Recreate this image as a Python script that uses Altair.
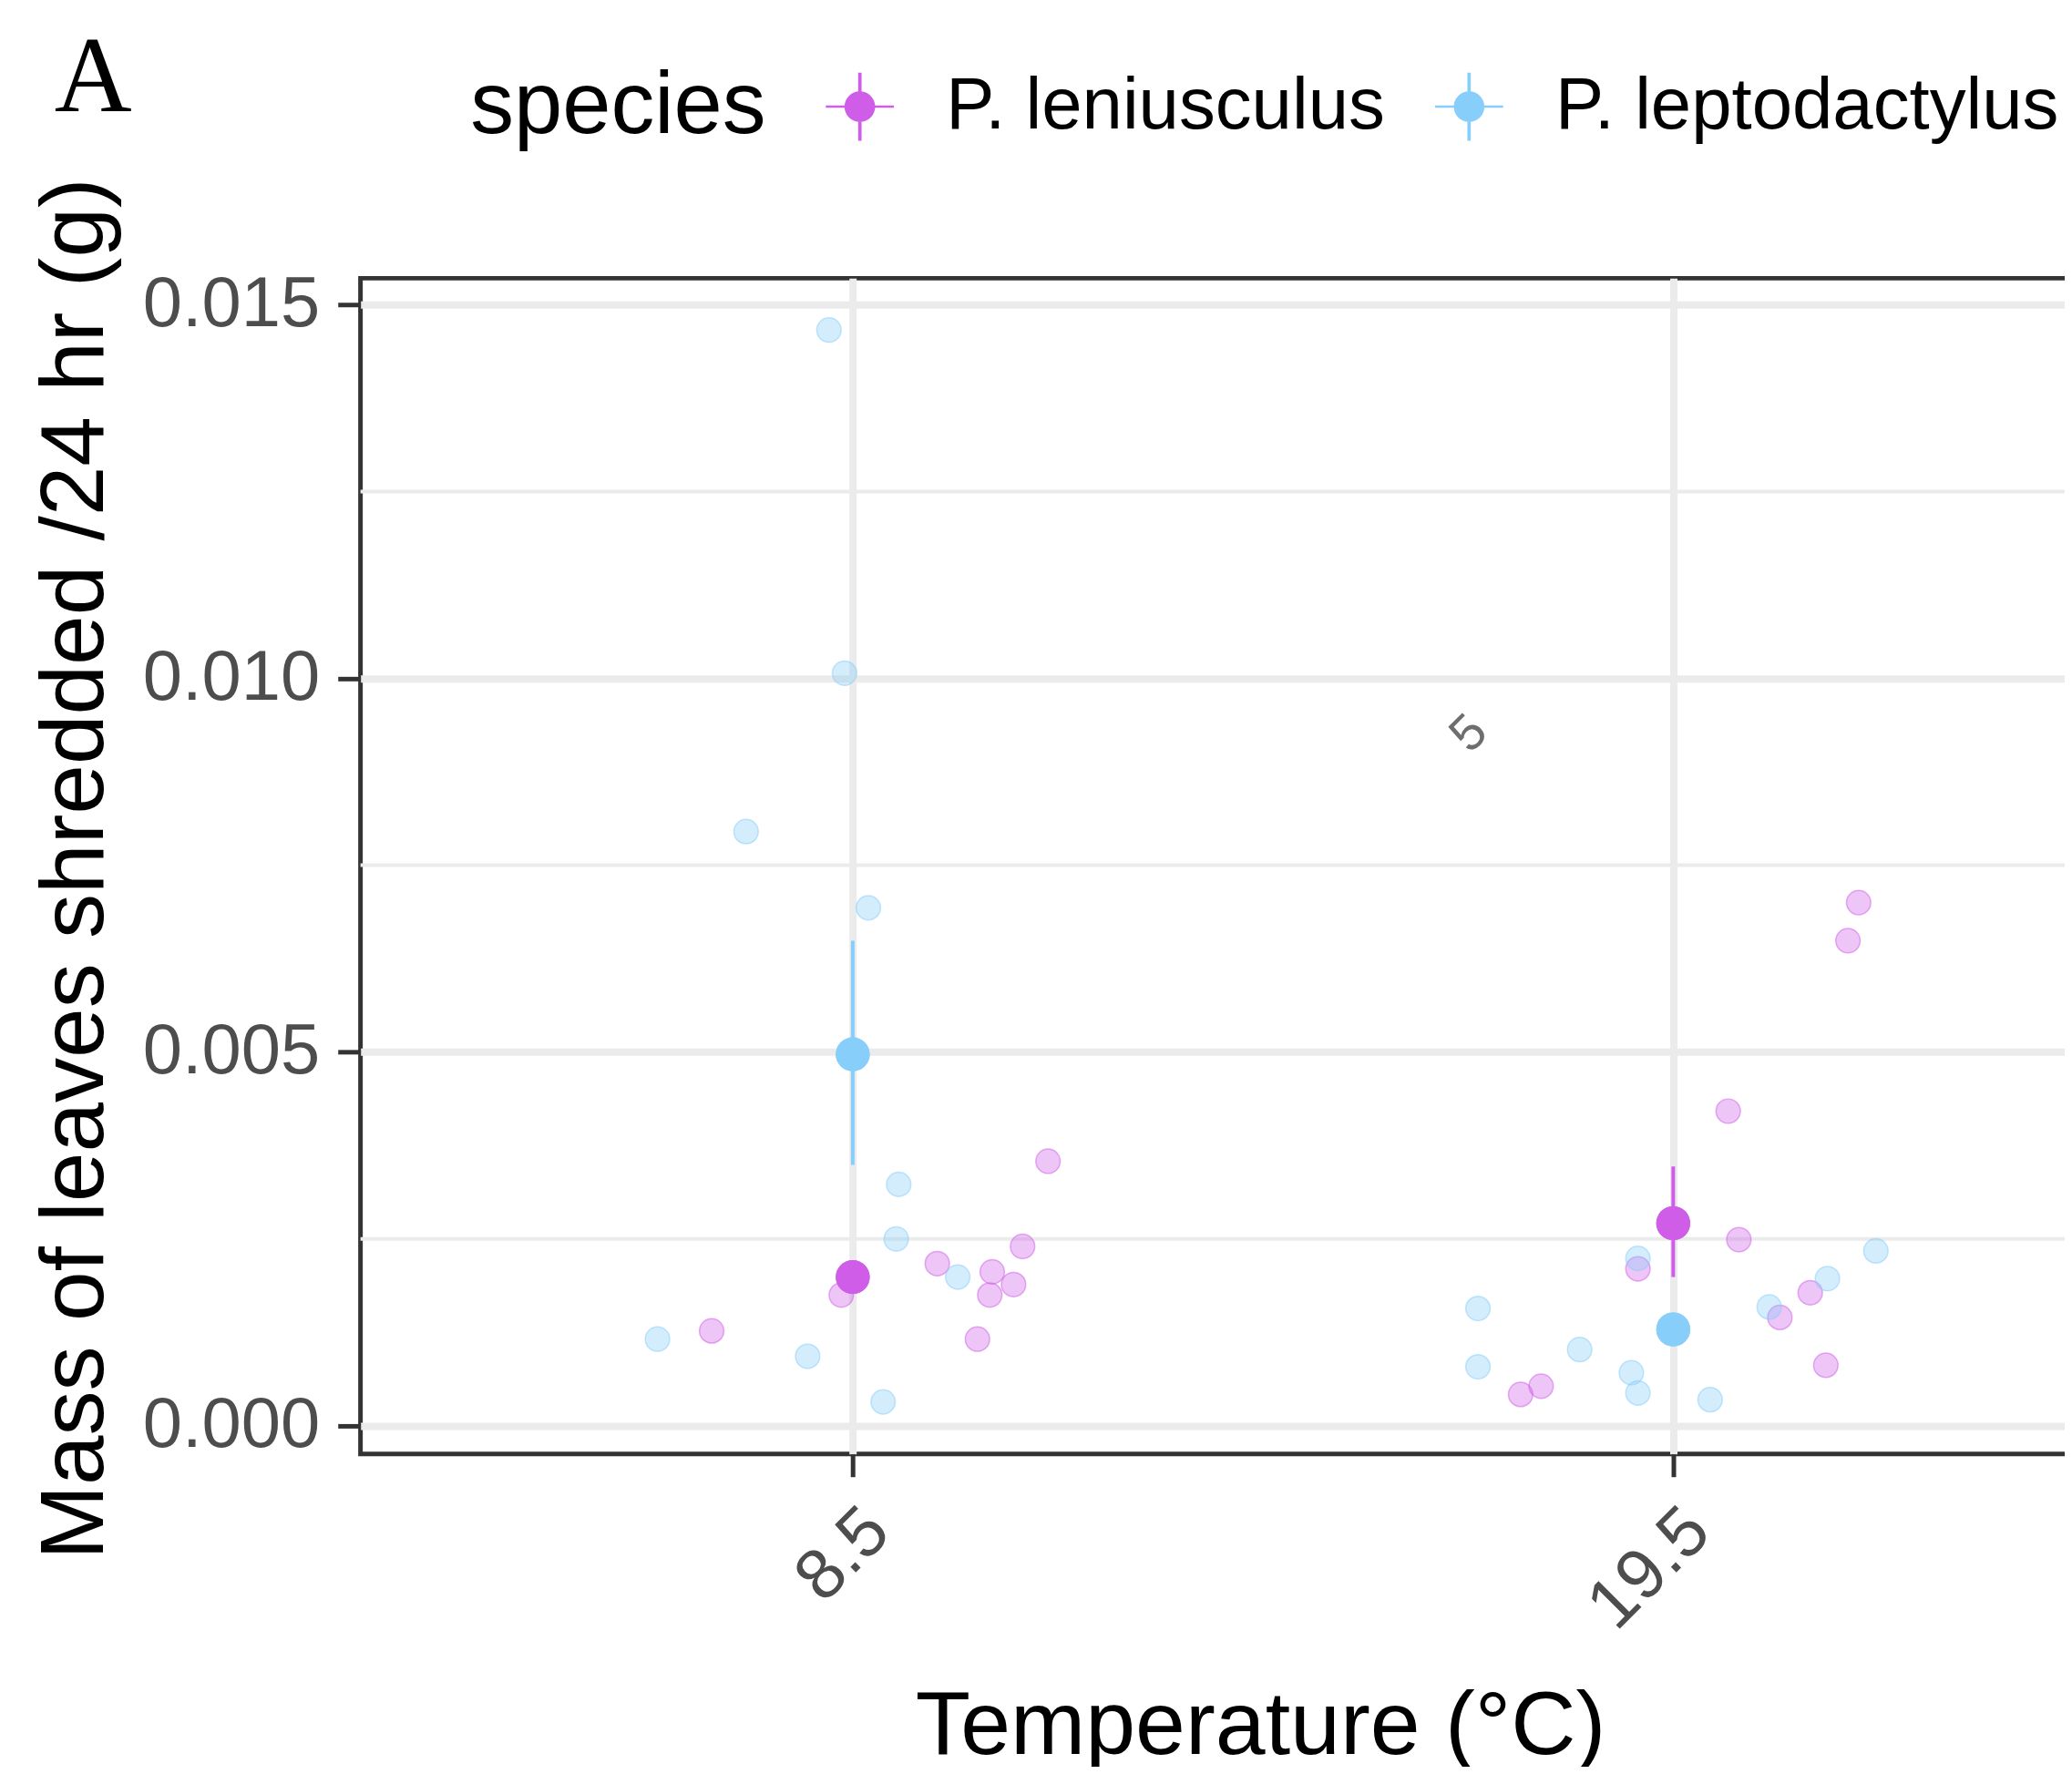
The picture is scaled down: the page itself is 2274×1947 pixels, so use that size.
import json
import altair as alt
import pandas as pd

# ---------------- data ----------------
temps = ["8.5", "19.5"]
species = ["P. leniusculus", "P. leptodactylus"]
colors = ["#D05DE8", "#87CEFA"]

# raw observations: mass shredded (g / 24 h) and horizontal jitter (category units)
len_85_mass = [0.00354, 0.00240, 0.00217, 0.00206, 0.00189, 0.00175, 0.00175, 0.00127, 0.00116]
len_85_jit = [0.238, 0.207, 0.103, 0.170, 0.196, 0.167, -0.014, -0.172, 0.152]
lep_85_mass = [0.01466, 0.01007, 0.00795, 0.00693, 0.00323, 0.00250, 0.00199, 0.00116, 0.00093, 0.00032]
lep_85_jit = [-0.029, -0.010, -0.130, 0.019, 0.056, 0.053, 0.128, -0.238, -0.055, 0.037]
len_195_mass = [0.00700, 0.00649, 0.00421, 0.00249, 0.00210, 0.00178, 0.00145, 0.00081, 0.00053, 0.00042]
len_195_jit = [0.226, 0.213, 0.067, 0.080, -0.043, 0.167, 0.130, 0.186, -0.161, -0.186]
lep_195_mass = [0.00234, 0.00224, 0.00197, 0.00159, 0.00157, 0.00102, 0.00079, 0.00071, 0.00044, 0.00035]
lep_195_jit = [0.247, -0.043, 0.188, 0.117, -0.238, -0.114, -0.238, -0.051, -0.043, 0.045]

# summary (mean and error-bar limits)
sum_temp = ["8.5", "8.5", "19.5", "19.5"]
sum_species = ["P. leniusculus", "P. leptodactylus", "P. leniusculus", "P. leptodactylus"]
sum_mean = [0.00199, 0.00497, 0.00271, 0.00129]
sum_lo = [0.00180, 0.00349, 0.00199, 0.00113]
sum_hi = [0.00218, 0.00649, 0.00347, 0.00145]

y_ticks = [0.0, 0.005, 0.010, 0.015]
minor_y = [0.0025, 0.0075, 0.0125]

stray_text = ["5"]
stray_x = [1.751]
stray_y = [0.00926]

# ---------------- tables ----------------
rows = []
for ti, sp, masses, jits in [
    (0, species[0], len_85_mass, len_85_jit),
    (0, species[1], lep_85_mass, lep_85_jit),
    (1, species[0], len_195_mass, len_195_jit),
    (1, species[1], lep_195_mass, lep_195_jit),
]:
    for m, j in zip(masses, jits):
        rows.append({"temp": temps[ti], "species": sp, "xpos": ti + 1 + j, "mass": m})
raw = pd.DataFrame(rows)

summ = pd.DataFrame({
    "temp": sum_temp,
    "species": sum_species,
    "xpos": [temps.index(t) + 1 for t in sum_temp],
    "mass": sum_mean,
    "lo": sum_lo,
    "hi": sum_hi,
})
minor_df = pd.DataFrame({"mass": minor_y})
stray_df = pd.DataFrame({"txt": stray_text, "xpos": stray_x, "mass": stray_y})

# ---------------- scales / axes ----------------
FONT = "Liberation Sans"
xscale = alt.Scale(domain=[0.4, 2.6], nice=False, zero=False)
yscale = alt.Scale(domain=[-0.000377, 0.015353], nice=False, zero=False)
cscale = alt.Scale(domain=species, range=colors)

x_axis = alt.Axis(
    values=[1, 2],
    labelExpr=f"{json.dumps(temps)}[datum.value - 1]",
    title="Temperature (°C)",
    grid=True, gridColor="#EBEBEB", gridWidth=8,
    domain=False,
    ticks=True, tickColor="#333333", tickWidth=5, tickSize=25,
    labelAngle=315, labelAlign="right", labelBaseline="top", labelPadding=20,
    labelFont=FONT, labelFontSize=78, labelColor="#4D4D4D", labelLimit=2000,
    labelFlush=False, labelOverlap=False,
    titleFont=FONT, titleFontSize=99, titleFontWeight="normal", titleColor="black",
    titleX=991, titleY=330, titleAlign="center", titleBaseline="alphabetic",
)
y_axis = alt.Axis(
    values=y_ticks, format=".3f",
    title="Mass of leaves shredded /24 hr (g)",
    grid=True, gridColor="#EBEBEB", gridWidth=8,
    domain=False,
    ticks=True, tickColor="#333333", tickWidth=5, tickSize=25,
    labelPadding=20,
    labelFont=FONT, labelFontSize=78, labelColor="#4D4D4D", labelLimit=2000,
    labelFlush=False, labelOverlap=False,
    titleFont=FONT, titleFontSize=98.5, titleFontWeight="normal", titleColor="black",
    titleX=-314, titleY=650, titleAngle=270, titleAlign="center", titleBaseline="middle",
)

legend_symbol = (
    "M-0.45,0A0.45,0.45,0,1,1,0.45,0A0.45,0.45,0,1,1,-0.45,0Z"
    "M-0.05,-1H0.05V1H-0.05Z"
    "M-1,-0.035H1V0.035H-1Z"
)
legend = alt.Legend(
    title="species", orient="none", legendX=121, legendY=-229,
    direction="horizontal", titleOrient="left", titleAnchor="middle", titleBaseline="middle",
    titleFont=FONT, titleFontSize=96, titleFontWeight="normal", titleColor="black",
    titlePadding=63, titleLimit=2000,
    labelFont=FONT, labelFontSize=80, labelColor="black", labelOffset=55, labelLimit=2000,
    columnPadding=52, padding=0,
    symbolType=legend_symbol, symbolSize=5625, symbolOpacity=1, symbolStrokeWidth=0,
)


def X(field="xpos"):
    return alt.X(f"{field}:Q", scale=xscale, axis=x_axis)


def Y(field="mass"):
    return alt.Y(f"{field}:Q", scale=yscale, axis=y_axis)


minor = alt.Chart(minor_df).mark_rule(color="#EBEBEB", strokeWidth=4).encode(y=Y())

# first colour layer carries the legend (legend settings merge first-come)
means_legend = alt.Chart(summ).mark_circle(size=1400, opacity=1).encode(
    x=X(), y=Y(),
    color=alt.Color("species:N", scale=cscale, legend=legend),
)

points = alt.Chart(raw).mark_circle(
    size=720, fillOpacity=0.36, strokeOpacity=0.5, strokeWidth=1.5
).encode(
    x=X(), y=Y(),
    color=alt.Color("species:N", scale=cscale, legend=None),
    stroke=alt.Stroke("species:N", scale=cscale, legend=None),
)

errbars = alt.Chart(summ).mark_rule(strokeWidth=4).encode(
    x=X(), y=Y("lo"), y2="hi:Q",
    color=alt.Color("species:N", scale=cscale, legend=None),
)

means = alt.Chart(summ).mark_circle(size=1400, opacity=1).encode(
    x=X(), y=Y(),
    color=alt.Color("species:N", scale=cscale, legend=None),
)

stray = alt.Chart(stray_df).mark_text(
    angle=315, font=FONT, fontSize=56, color="#6E6E6E", align="center", baseline="middle"
).encode(x=X(), y=Y(), text="txt:N")

chart = alt.layer(minor, means_legend, points, errbars, means, stray).properties(
    width=1988,
    height=1295,
    autosize=alt.AutoSizeParams(type="none"),
    padding={"left": 389, "top": 295, "right": -111, "bottom": 341},
    background="white",
    title=alt.TitleParams(
        "A", anchor="start", frame="group", font="Liberation Serif", fontSize=118,
        fontWeight="normal", color="black", dx=-337, dy=70, offset=0,
    ),
).configure_view(stroke="#333333", strokeWidth=5)

chart.save("out.html", embed_options={"renderer": "svg", "actions": False})
